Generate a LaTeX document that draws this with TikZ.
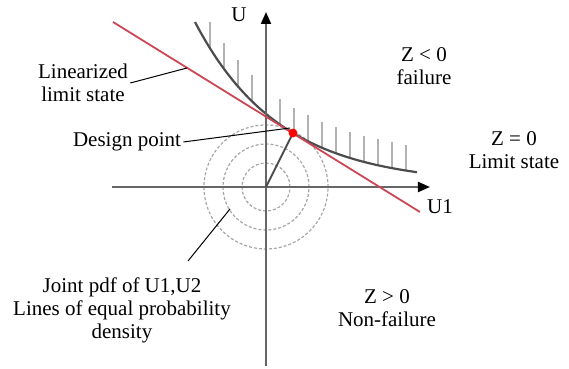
\documentclass[tikz,border=0pt]{standalone}
\usepackage{fontspec}
\setmainfont{Liberation Serif}
\usetikzlibrary{arrows.meta}

\definecolor{lsred}{RGB}{205,70,85}

\begin{document}
\begin{tikzpicture}[x=0.5pt, y=0.5pt, >={Triangle[length=6pt, width=5pt, color=black]},
    every node/.style={
        align=center,
        inner sep=1pt,
        font=\fontsize{10.5}{11.5}\selectfont
    },
    axis/.style={draw=black!60, line width=1pt},
    limit/.style={draw=black!70, line width=1.1pt},
    hatch/.style={draw=black!30, line width=0.6pt},
    contour/.style={draw=black!35, line width=0.6pt, dash pattern=on 1.5pt off 1pt},
    leader/.style={draw=black, line width=0.5pt}]

    \useasboundingbox (-266,-182) rectangle (303,187);

    \coordinate (O) at (0,0);
    \coordinate (D) at (27,54);

    % Lines of equal probability density
    \foreach \r in {24,43,62}
        \draw[contour] (O) circle[radius=\r*0.5pt];

    % Hatching on the failure side
    \foreach \x in {-56,-42,...,140}
        \draw[hatch] (\x,{70.1*exp(-0.0118*\x)+3}) -- ++(0,26);

    % Limit state curve
    \draw[limit, domain=-71:151, samples=60] plot (\x,{70.1*exp(-0.0118*\x)+3});

    % Axes
    \draw[axis, ->] (-154,0) -- (164,0);
    \draw[axis, ->] (0,-179) -- (0,175);

    % Linearized limit state and design point
    \coordinate (LA) at (-153,165);
    \coordinate (LB) at (154,-25);
    \draw[lsred, line width=0.9pt] (LA) -- (LB);
    \draw[draw=black!70, line width=0.9pt] (O) -- (D);
    \fill[red] (D) circle[radius=2.2pt];

    % Labels
    \node (u2) at (-27,172) {U};
    \node (u1) at (174,-20) {U1};
    \node (fail) at (158,121) {Z < 0\\failure};
    \node (ls) at (248,37) {Z = 0\\Limit state};
    \node (safe) at (121,-121) {Z > 0\\Non-failure};
    \node (lin) at (-183,104) {Linearized\\limit state};
    \node (dp) at (-139,45) {Design point};
    \node (pdf) at (-144,-123) {Joint pdf of U1,U2\\Lines of equal probability\\density};

    % Leaders
    \coordinate (linpt) at (-79,119);
    \coordinate (dppt) at (24,59);
    \coordinate (pdfa) at (-78,-74);
    \coordinate (pdfb) at (-36,-22);
    \draw[leader] (lin.east) -- (linpt);
    \draw[leader] (dp.east) -- (dppt);
    \draw[leader] (pdfa) -- (pdfb);
\end{tikzpicture}
\end{document}
